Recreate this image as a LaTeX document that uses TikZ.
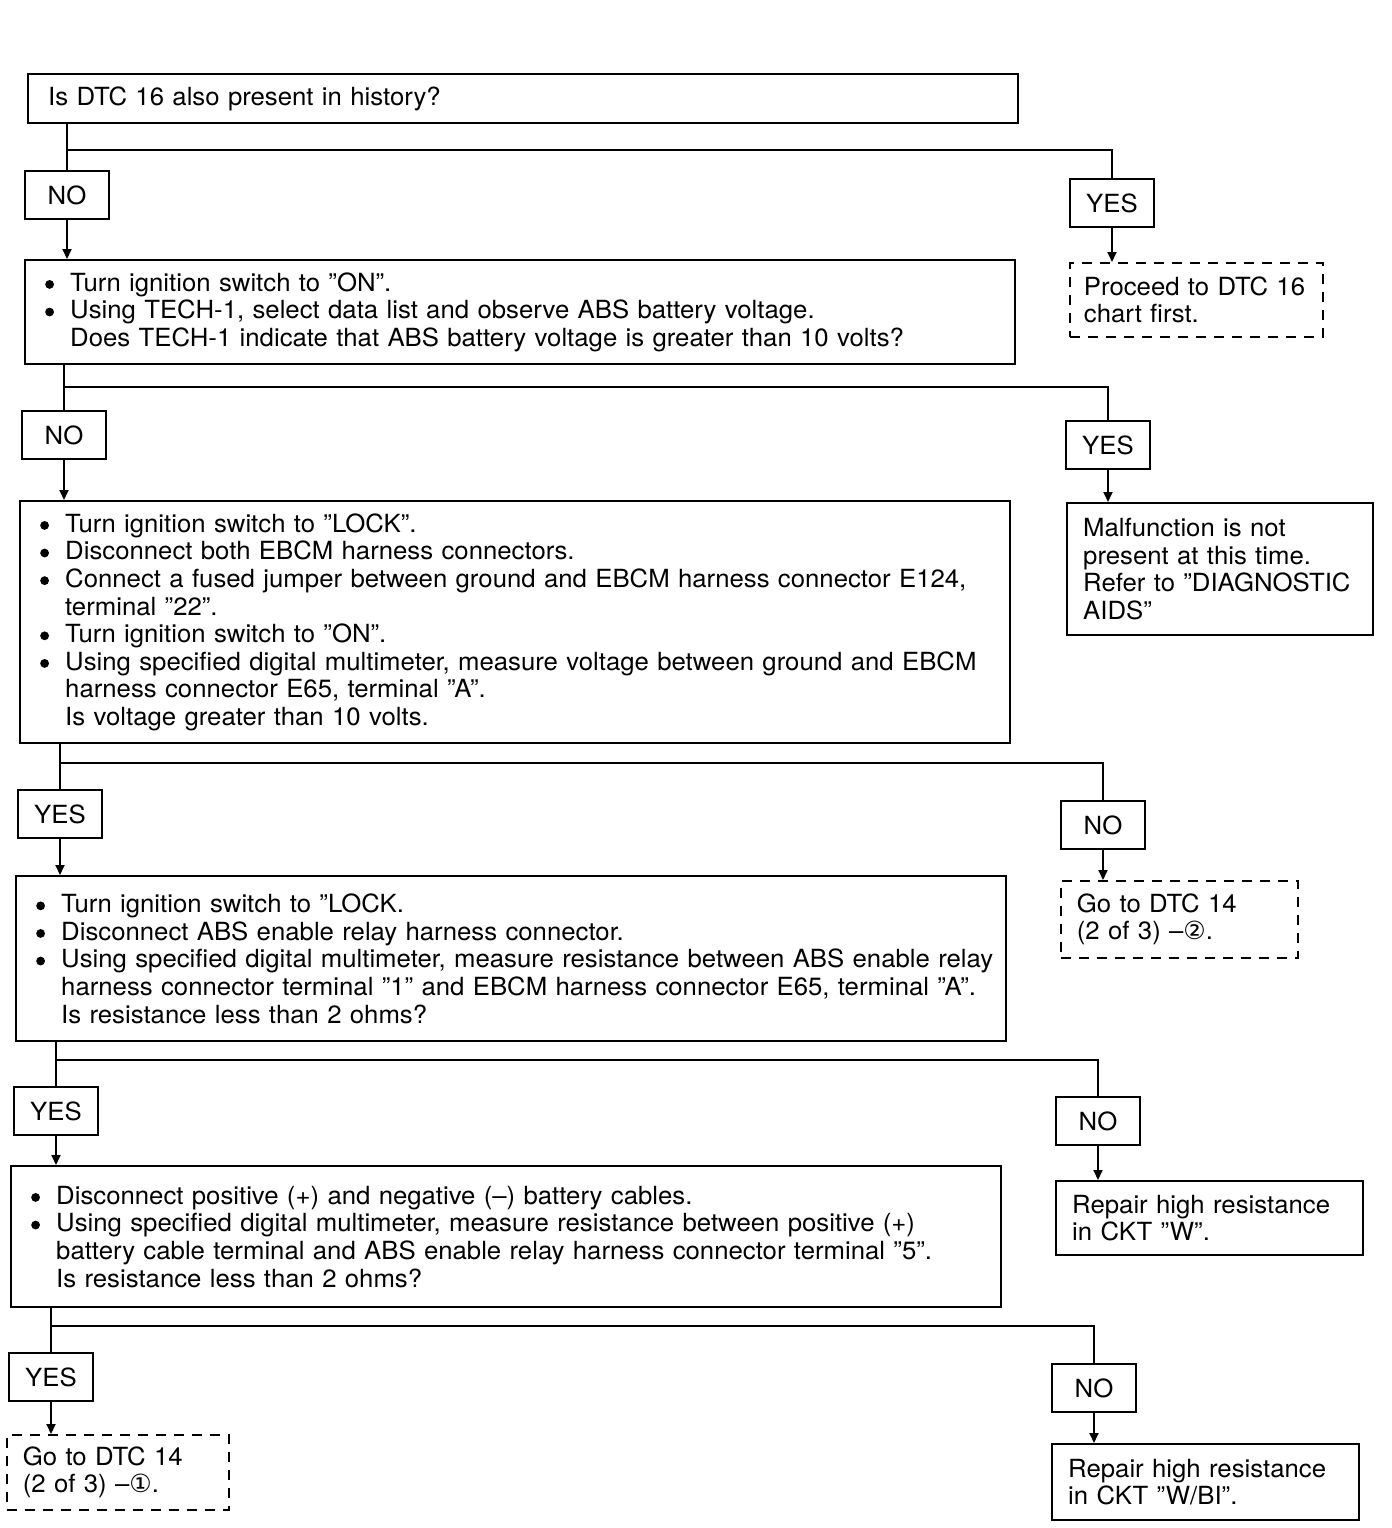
\documentclass[tikz,border=0pt]{standalone}
\usepackage{fontspec}
\setmainfont{TeX Gyre Heros}[FakeStretch=1.03]
\newfontfamily\symfont{DejaVu Sans}
\usetikzlibrary{positioning,arrows.meta}

\newcommand{\bul}{\makebox[12.5pt][l]{\tikz[baseline=-3.4pt]\fill (0,0) circle (2.2pt);}}
\newcommand{\ind}{\hspace*{12.5pt}}

\begin{document}
\begin{tikzpicture}[
  x=0.5pt, y=-0.5pt,
  font=\fontsize{12.5}{13.8}\selectfont,
  line width=0.9pt,
  qbox/.style={draw, line width=1.2pt, anchor=north west, text width=487pt,
               align=left, inner xsep=4pt, inner ysep=3pt,
               execute at begin node={\leftskip=6pt}},
  ansbox/.style={draw, line width=1pt, anchor=north, minimum width=42pt,
                 minimum height=24pt, inner sep=0pt},
  endbox/.style={draw, line width=1.2pt, anchor=north west, text width=#1,
                 align=left, inner xsep=8pt, inner ysep=3pt},
  dashbox/.style={endbox=#1, line width=0.9pt, dash pattern=on 5pt off 4pt},
  arr/.style={-{Triangle[length=5pt,width=4.5pt]}, line width=0.9pt},
]
\useasboundingbox (0,0) rectangle (1392,1528);

% ---------- Bloque 1 ----------
\node[qbox, minimum height=24.5pt] (q1) at (27,73)
  {Is DTC 16 also present in history?};
\node[ansbox] (no1) at (67,170) {NO};
\node[ansbox] (yes1) at (1112,178) {YES};
\node[dashbox=118.5pt, inner xsep=4pt, minimum height=37pt] (dtc16) at (1069,262)
  {\hspace*{3pt}Proceed to DTC 16\\\hspace*{3pt}chart first.};

% ---------- Bloque 2 ----------
\node[qbox, minimum height=52pt] (q2) at (24,259) {
  \bul Turn ignition switch to "ON".\\
  \bul Using TECH-1, select data list and observe ABS battery voltage.\\
  \ind Does TECH-1 indicate that ABS battery voltage is greater than 10 volts?};
\node[ansbox] (no2) at (64,410) {NO};
\node[ansbox] (yes2) at (1108,420) {YES};
\node[endbox=137pt, minimum height=66pt] (malf) at (1066,502)
  {Malfunction is not\\present at this time.\\Refer to "DIAGNOSTIC\\AIDS"};

% ---------- Bloque 3 ----------
\node[qbox, minimum height=121pt] (q3) at (19,500) {
  \bul Turn ignition switch to "LOCK".\\
  \bul Disconnect both EBCM harness connectors.\\
  \bul Connect a fused jumper between ground and EBCM harness connector E124,\\
  \ind terminal "22".\\
  \bul Turn ignition switch to "ON".\\
  \bul Using specified digital multimeter, measure voltage between ground and EBCM\\
  \ind harness connector E65, terminal "A".\\
  \ind Is voltage greater than 10 volts.};
\node[ansbox] (yes3) at (60,789) {YES};
\node[ansbox] (no3) at (1103,800) {NO};
\node[dashbox=102.5pt, minimum height=38.5pt] (dtc14b) at (1060,880)
  {Go to DTC 14\\(2 of 3) --{\symfont ②}.};

% ---------- Bloque 4 ----------
\node[qbox, minimum height=82.5pt] (q4) at (15,875) {
  \bul Turn ignition switch to "LOCK.\\
  \bul Disconnect ABS enable relay harness connector.\\
  \bul Using specified digital multimeter, measure resistance between ABS enable relay\\
  \ind harness connector terminal "1" and EBCM harness connector E65, terminal "A".\\
  \ind Is resistance less than 2 ohms?};
\node[ansbox] (yes4) at (56,1086) {YES};
\node[ansbox] (no4) at (1098,1096) {NO};
\node[endbox=137.5pt, minimum height=37pt] (rep1) at (1055,1180)
  {Repair high resistance\\in CKT "W".};

% ---------- Bloque 5 ----------
\node[qbox, minimum height=70.5pt] (q5) at (10,1165) {
  \bul Disconnect positive (+) and negative (--) battery cables.\\
  \bul Using specified digital multimeter, measure resistance between positive (+)\\
  \ind battery cable terminal and ABS enable relay harness connector terminal "5".\\
  \ind Is resistance less than 2 ohms?};
\node[ansbox] (yes5) at (51,1352) {YES};
\node[ansbox] (no5) at (1094,1363) {NO};
\node[dashbox=95pt, minimum height=37.5pt] (dtc14a) at (6,1434)
  {Go to DTC 14\\(2 of 3) --{\symfont ①}.};
\node[endbox=137.5pt, minimum height=38pt] (rep2) at (1051,1443)
  {Repair high resistance\\in CKT "W/BI".};

% ---------- Ramificaciones ----------
\coordinate (b1) at (67,150);
\coordinate (b2) at (64,387);
\coordinate (b3) at (60,763);
\coordinate (b4) at (56,1060);
\coordinate (b5) at (51,1326);

\draw (q1.south -| b1) -- (no1.north);
\draw (b1) -| (yes1.north);
\draw (q2.south -| b2) -- (no2.north);
\draw (b2) -| (yes2.north);
\draw (q3.south -| b3) -- (yes3.north);
\draw (b3) -| (no3.north);
\draw (q4.south -| b4) -- (yes4.north);
\draw (b4) -| (no4.north);
\draw (q5.south -| b5) -- (yes5.north);
\draw (b5) -| (no5.north);

% ---------- Flechas ----------
\draw[arr] (no1.south) -- (no1.south |- q2.north);
\draw[arr] (yes1.south) -- (yes1.south |- dtc16.north);
\draw[arr] (no2.south) -- (no2.south |- q3.north);
\draw[arr] (yes2.south) -- (yes2.south |- malf.north);
\draw[arr] (yes3.south) -- (yes3.south |- q4.north);
\draw[arr] (no3.south) -- (no3.south |- dtc14b.north);
\draw[arr] (yes4.south) -- (yes4.south |- q5.north);
\draw[arr] (no4.south) -- (no4.south |- rep1.north);
\draw[arr] (yes5.south) -- (yes5.south |- dtc14a.north);
\draw[arr] (no5.south) -- (no5.south |- rep2.north);
\end{tikzpicture}
\end{document}
